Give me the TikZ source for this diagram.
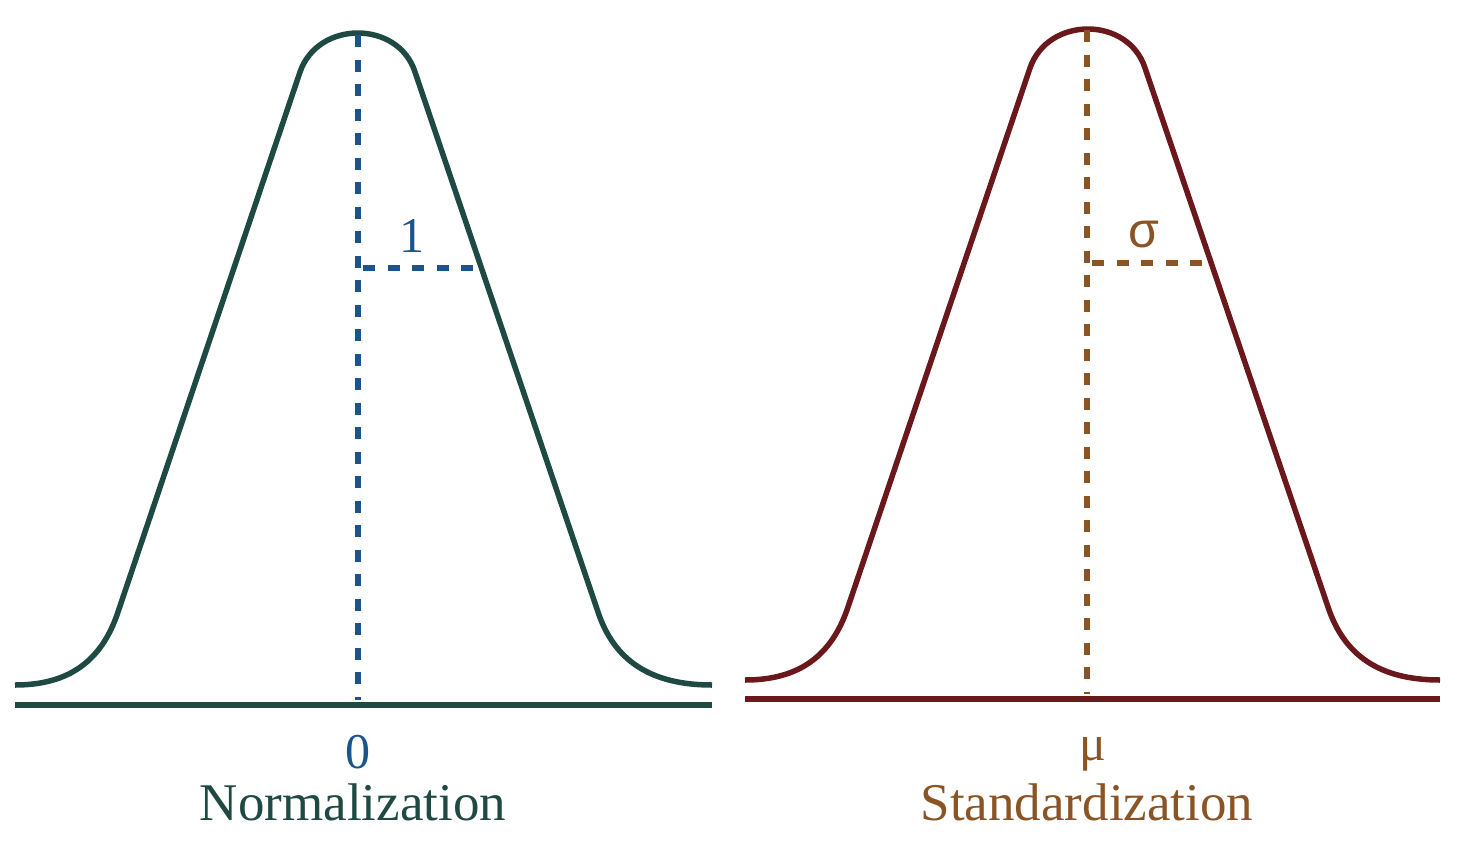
\documentclass[tikz,border=0pt]{standalone}
\usepackage{fontspec}
\setmainfont{Liberation Serif}
\newfontfamily\sansgreek{Liberation Sans}
\definecolor{teal}{RGB}{31,74,68}
\definecolor{nblue}{RGB}{26,84,140}
\definecolor{dred}{RGB}{107,24,28}
\definecolor{sbrown}{RGB}{139,84,36}
\begin{document}
\begin{tikzpicture}[x=1pt,y=-1pt,
  curve/.style={line width=5.5pt,line join=round},
  axisline/.style={line width=5.5pt},
  guide/.style={line width=5.5pt,dash pattern=on 12pt off 12.5pt},
  lbl/.style={anchor=base,inner sep=0pt,font=\fontsize{50}{56}\selectfont},
  title/.style={anchor=base,inner sep=0pt,font=\fontsize{53}{60}\selectfont}]
\useasboundingbox (0,0) rectangle (1459,847);
% Left: normalization
\draw[curve,teal] (15,685) .. controls (70,685) and (102,660) .. (118,612) -- (300,72)
  .. controls (318,20) and (398,20) .. (415,72) -- (598,612)
  .. controls (614,660) and (650,685) .. (712,685);
\coordinate (ltop) at (358,35);
\coordinate (lbot) at (358,700);
\coordinate (lmid) at (363,268);
\coordinate (lside) at (476,268);
\coordinate (laxL) at (15,705);
\coordinate (laxR) at (712,705);
\draw[axisline,teal] (laxL) -- (laxR);
\draw[guide,nblue] (ltop) -- (lbot);
\draw[guide,nblue] (lmid) -- (lside);
\node[lbl,text=nblue] (one) at (412,252) {1};
\node[lbl,text=nblue] (zero) at (358,768) {0};
\node[title,text=teal] (norm) at (353,820) {Normalization};
% Right: standardization
\begin{scope}[shift={(729,-5)}]
\draw[curve,dred] (16,685) .. controls (71,685) and (103,660) .. (119,612) -- (301,73)
  .. controls (319,21) and (399,21) .. (416,73) -- (599,612)
  .. controls (615,660) and (650,685) .. (711,685);
\end{scope}
\coordinate (rtop) at (1087,30);
\coordinate (rbot) at (1087,694);
\coordinate (rmid) at (1092,263);
\coordinate (rside) at (1204,263);
\coordinate (raxL) at (745,699);
\coordinate (raxR) at (1440,699);
\draw[axisline,dred] (raxL) -- (raxR);
\draw[guide,sbrown] (rtop) -- (rbot);
\draw[guide,sbrown] (rmid) -- (rside);
\node[lbl,text=sbrown,font=\fontsize{50}{56}\sansgreek] (sigma) at (1144,247) {σ};
\node[lbl,text=sbrown] (mu) at (1093,760) {μ};
\node[title,text=sbrown] (stand) at (1087,820) {Standardization};
\end{tikzpicture}
\end{document}
